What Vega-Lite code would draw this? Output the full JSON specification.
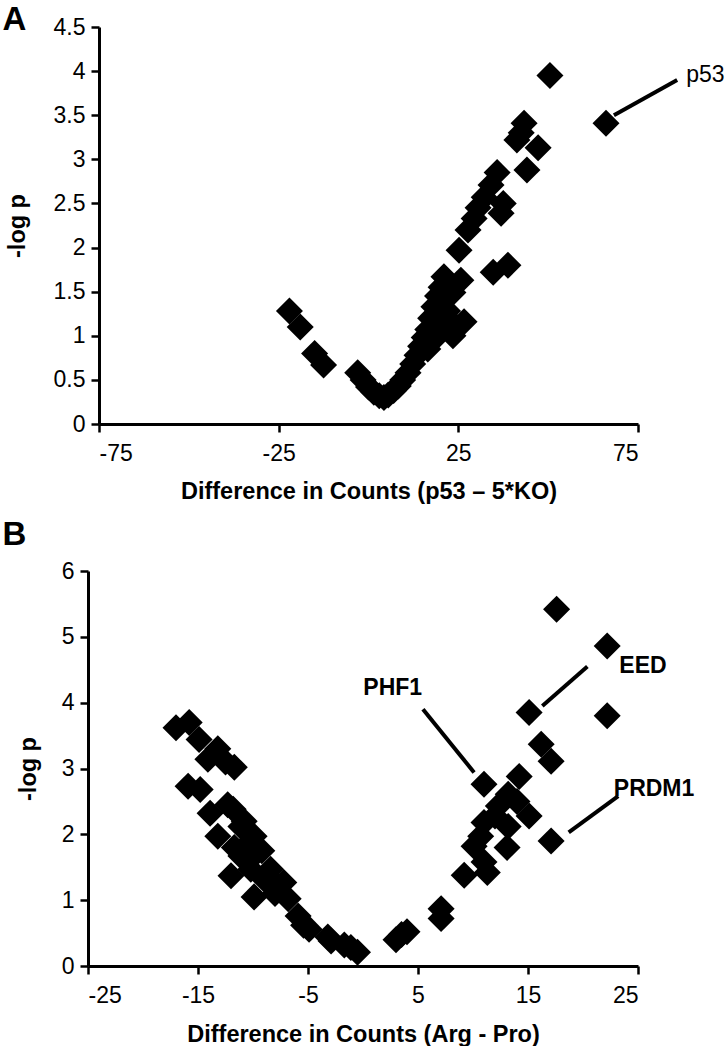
{
  "$schema": "https://vega.github.io/schema/vega-lite/v6.json",
  "background": "white",
  "padding": {"left": 2, "top": 4, "right": 0, "bottom": 0},
  "config": {
    "view": {"stroke": null},
    "font": "Liberation Sans",
    "axis": {
      "grid": false,
      "domainColor": "black",
      "domainWidth": 3,
      "tickColor": "black",
      "tickWidth": 2.5,
      "tickSize": 8,
      "labelColor": "black",
      "labelFont": "Liberation Sans",
      "labelFontSize": 23,
      "titleColor": "black",
      "titleFont": "Liberation Sans",
      "titleFontWeight": "bold",
      "titleFontSize": 23.5
    },
    "axisX": {"labelPadding": 10, "titlePadding": 14},
    "axisY": {"labelPadding": 6},
    "concat": {"spacing": 15}
  },
  "vconcat": [
    {
      "width": 550,
      "height": 397,
      "title": {"text": "A", "anchor": "start", "frame": "bounds", "fontSize": 33, "fontWeight": "bold", "color": "black", "font": "Liberation Sans", "offset": -21, "dx": -3},
      "layer": [
        {
          "data": {"values": [
            {"x": -22, "y": 1.28}, {"x": -19, "y": 1.1}, {"x": -15, "y": 0.8}, {"x": -12.5, "y": 0.67},
            {"x": -3, "y": 0.58}, {"x": -1.5, "y": 0.5}, {"x": 0, "y": 0.42}, {"x": 1.5, "y": 0.36},
            {"x": 3, "y": 0.32}, {"x": 4.3, "y": 0.3}, {"x": 5.5, "y": 0.33}, {"x": 7, "y": 0.38},
            {"x": 8.3, "y": 0.43}, {"x": 9.5, "y": 0.5}, {"x": 11, "y": 0.58}, {"x": 12.3, "y": 0.68},
            {"x": 13.5, "y": 0.78}, {"x": 14.5, "y": 0.88}, {"x": 15.5, "y": 0.98}, {"x": 16.5, "y": 1.07},
            {"x": 17.3, "y": 1.2}, {"x": 18.2, "y": 1.33}, {"x": 19.2, "y": 1.45}, {"x": 20.2, "y": 1.55},
            {"x": 21, "y": 1.67}, {"x": 16.5, "y": 0.85}, {"x": 18, "y": 0.95}, {"x": 19.5, "y": 1.05},
            {"x": 21, "y": 1.15}, {"x": 22, "y": 1.28}, {"x": 23.5, "y": 1.0}, {"x": 24.5, "y": 1.1},
            {"x": 26.6, "y": 1.16}, {"x": 23.5, "y": 1.49}, {"x": 25.7, "y": 1.63}, {"x": 25.2, "y": 1.97},
            {"x": 34.7, "y": 1.72}, {"x": 38.8, "y": 1.8}, {"x": 27.7, "y": 2.2}, {"x": 29.4, "y": 2.33},
            {"x": 30.5, "y": 2.45}, {"x": 32.2, "y": 2.57}, {"x": 34.1, "y": 2.71}, {"x": 35.8, "y": 2.85},
            {"x": 36.9, "y": 2.39}, {"x": 37.5, "y": 2.5}, {"x": 44.1, "y": 2.88}, {"x": 41.3, "y": 3.22},
            {"x": 42.5, "y": 3.3}, {"x": 43.3, "y": 3.41}, {"x": 47.2, "y": 3.13}, {"x": 50.5, "y": 3.95},
            {"x": 66.1, "y": 3.41}
          ]},
          "mark": {"type": "point", "shape": "diamond", "filled": true, "color": "black", "opacity": 1, "size": 730},
          "encoding": {
            "x": {"field": "x", "type": "quantitative", "scale": {"domain": [-75, 75], "range": [11, 550], "nice": false, "zero": false},
                  "axis": {"values": [-75, -25, 25, 75], "labelExpr": "'' + datum.value", "title": "Difference in Counts (p53 – 5*KO)"}},
            "y": {"field": "y", "type": "quantitative", "scale": {"domain": [0, 4.5], "nice": false},
                  "axis": {"values": [0, 0.5, 1, 1.5, 2, 2.5, 3, 3.5, 4, 4.5], "labelExpr": "'' + datum.value", "title": "-log p", "titlePadding": 23.5, "offset": -11}}
          }
        },
        {
          "data": {"values": [{"x": 68.3, "y": 3.5, "x2": 85.9, "y2": 3.9}]},
          "mark": {"type": "rule", "strokeWidth": 4, "color": "black"},
          "encoding": {
            "x": {"field": "x", "type": "quantitative"},
            "y": {"field": "y", "type": "quantitative"},
            "x2": {"field": "x2"},
            "y2": {"field": "y2"}
          }
        },
        {
          "data": {"values": [{"x": 88.4, "y": 3.96, "label": "p53"}]},
          "mark": {"type": "text", "align": "left", "baseline": "middle", "fontSize": 23, "color": "black", "font": "Liberation Sans"},
          "encoding": {
            "x": {"field": "x", "type": "quantitative"},
            "y": {"field": "y", "type": "quantitative"},
            "text": {"field": "label"}
          }
        }
      ]
    },
    {
      "width": 550,
      "height": 395,
      "title": {"text": "B", "anchor": "start", "frame": "bounds", "fontSize": 33, "fontWeight": "bold", "color": "black", "font": "Liberation Sans", "offset": 8.5, "dx": -13.5},
      "layer": [
        {
          "data": {"values": [
            {"x": -17, "y": 3.62}, {"x": -15.8, "y": 3.7}, {"x": -14.9, "y": 3.44}, {"x": -14.1, "y": 3.14},
            {"x": -13.2, "y": 3.3}, {"x": -11.7, "y": 3.02}, {"x": -12.5, "y": 3.1}, {"x": -15.9, "y": 2.73},
            {"x": -14.8, "y": 2.68}, {"x": -13.9, "y": 2.32}, {"x": -12.3, "y": 2.45}, {"x": -11.8, "y": 2.38},
            {"x": -13.2, "y": 1.97}, {"x": -11.1, "y": 2.12}, {"x": -10.8, "y": 2.2}, {"x": -9.9, "y": 1.97},
            {"x": -11.7, "y": 1.8}, {"x": -12, "y": 1.37}, {"x": -11.1, "y": 1.67}, {"x": -10.4, "y": 1.6},
            {"x": -10.2, "y": 1.47}, {"x": -9.9, "y": 1.05}, {"x": -9.2, "y": 1.75}, {"x": -9, "y": 1.32},
            {"x": -8.4, "y": 1.47}, {"x": -7.7, "y": 1.21}, {"x": -7.2, "y": 1.27}, {"x": -6.8, "y": 1.02},
            {"x": -5.9, "y": 0.76}, {"x": -5.4, "y": 0.62}, {"x": -4.9, "y": 0.56}, {"x": -3.2, "y": 0.44},
            {"x": -2.9, "y": 0.38}, {"x": -1.7, "y": 0.32}, {"x": -1.1, "y": 0.28}, {"x": -0.5, "y": 0.21},
            {"x": -8, "y": 1.1}, {"x": -10.5, "y": 1.85},
            {"x": 3, "y": 0.4}, {"x": 3.5, "y": 0.48}, {"x": 4, "y": 0.52}, {"x": 7.1, "y": 0.87},
            {"x": 7.1, "y": 0.72}, {"x": 9.2, "y": 1.38}, {"x": 10.1, "y": 1.82}, {"x": 10.7, "y": 1.97},
            {"x": 11, "y": 1.58}, {"x": 11.3, "y": 1.42}, {"x": 11, "y": 2.18}, {"x": 12, "y": 2.28},
            {"x": 11, "y": 2.76}, {"x": 12.3, "y": 2.43}, {"x": 13.2, "y": 2.12}, {"x": 13.2, "y": 2.61},
            {"x": 14.2, "y": 2.88}, {"x": 13.1, "y": 1.8}, {"x": 15.1, "y": 2.28}, {"x": 14, "y": 2.5},
            {"x": 15.1, "y": 3.85}, {"x": 16.2, "y": 3.37}, {"x": 17.1, "y": 3.11}, {"x": 17.1, "y": 1.9},
            {"x": 17.6, "y": 5.42}, {"x": 22.2, "y": 4.86}, {"x": 22.2, "y": 3.8}
          ]},
          "mark": {"type": "point", "shape": "diamond", "filled": true, "color": "black", "opacity": 1, "size": 730},
          "encoding": {
            "x": {"field": "x", "type": "quantitative", "scale": {"domain": [-25, 25], "nice": false, "zero": false},
                  "axis": {"values": [-25, -15, -5, 5, 15, 25], "labelExpr": "'' + datum.value", "title": "Difference in Counts (Arg - Pro)", "titlePadding": 15}},
            "y": {"field": "y", "type": "quantitative", "scale": {"domain": [0, 6], "nice": false},
                  "axis": {"values": [0, 1, 2, 3, 4, 5, 6], "labelExpr": "'' + datum.value", "title": "-log p", "titlePadding": 21.2}}
          }
        },
        {
          "data": {"values": [
            {"x": 5.45, "y": 3.9, "x2": 10.1, "y2": 2.94},
            {"x": 20.4, "y": 4.55, "x2": 16.3, "y2": 3.95},
            {"x": 23.2, "y": 2.58, "x2": 18.7, "y2": 2.03}
          ]},
          "mark": {"type": "rule", "strokeWidth": 4, "color": "black"},
          "encoding": {
            "x": {"field": "x", "type": "quantitative"},
            "y": {"field": "y", "type": "quantitative"},
            "x2": {"field": "x2"},
            "y2": {"field": "y2"}
          }
        },
        {
          "data": {"values": [
            {"x": 2.7, "y": 4.23, "label": "PHF1", "al": "center"},
            {"x": 23.3, "y": 4.55, "label": "EED", "al": "left"},
            {"x": 22.8, "y": 2.69, "label": "PRDM1", "al": "left"}
          ]},
          "mark": {"type": "text", "baseline": "middle", "fontSize": 23, "fontWeight": "bold", "color": "black", "font": "Liberation Sans", "align": {"expr": "datum.al"}},
          "encoding": {
            "x": {"field": "x", "type": "quantitative"},
            "y": {"field": "y", "type": "quantitative"},
            "text": {"field": "label"}
          }
        }
      ]
    }
  ]
}
